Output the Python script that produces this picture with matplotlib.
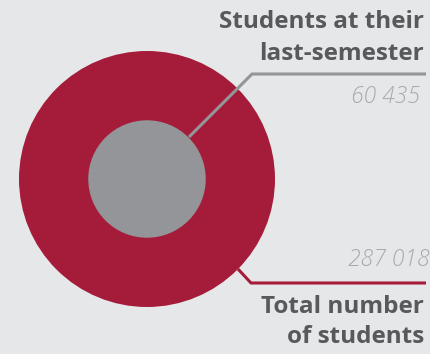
import numpy as np
import matplotlib.pyplot as plt
from matplotlib.patches import Circle

# Données
labels = ["Total number\nof students", "Students at their\nlast-semester"]
values = [287018, 60435]
value_labels = ["287 018", "60 435"]
colors = ["#a51c3a", "#939598"]
line_colors = ["#a51c3a", "#939598"]

bg = "#e6e7e8"
text_color = "#58595b"
num_color = "#a7a9ac"

fig = plt.figure(figsize=(4.30, 3.54), dpi=100, facecolor=bg)
ax = fig.add_axes([0, 0, 1, 1])
ax.set_xlim(0, 430)
ax.set_ylim(354, 0)
ax.set_facecolor(bg)
ax.axis("off")

# Cercles proportionnels (aire ~ valeur)
cx, cy = 147, 179
r_max = 128
radii = [r_max * np.sqrt(v / max(values)) for v in values]
for r, c in zip(radii, colors):
    ax.add_patch(Circle((cx, cy), r, facecolor=c, edgecolor="none"))

# Lignes de rappel
ax.plot([238, 251, 426], [269, 283, 283], color=line_colors[0], lw=2.2,
        solid_capstyle="butt")
ax.plot([189, 252, 426], [137, 74, 74], color=line_colors[1], lw=2.2,
        solid_capstyle="butt")

# Textes
font = "Open Sans"
big = 17.5
ax.text(424, 28, labels[1].split("\n")[0], ha="right", va="baseline",
        fontsize=big, fontweight="bold", color=text_color, family=font)
ax.text(424, 60, labels[1].split("\n")[1], ha="right", va="baseline",
        fontsize=big, fontweight="bold", color=text_color, family=font)
ax.text(420, 103, value_labels[1], ha="right", va="baseline", fontsize=16.5,
        style="italic", fontweight="light", color=num_color, family=font)
ax.text(430, 266, value_labels[0], ha="right", va="baseline", fontsize=16.5,
        style="italic", fontweight="light", color=num_color, family=font)
ax.text(424, 313, labels[0].split("\n")[0], ha="right", va="baseline",
        fontsize=big, fontweight="bold", color=text_color, family=font)
ax.text(424, 343, labels[0].split("\n")[1], ha="right", va="baseline",
        fontsize=big, fontweight="bold", color=text_color, family=font)

fig.savefig("out.png", dpi=100, facecolor=bg)
